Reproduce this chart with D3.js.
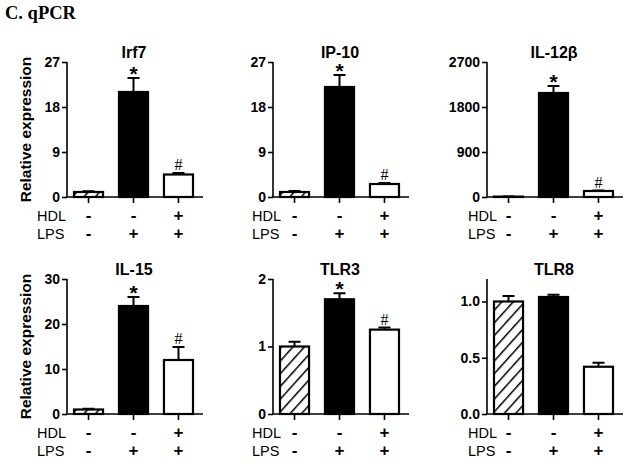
<!DOCTYPE html>
<html>
<head>
<meta charset="utf-8">
<script src="https://cdn.jsdelivr.net/npm/d3@7"></script>
<style>
  body { margin: 0; background: #fff; }
  text { font-family: "Liberation Sans", Arial, sans-serif; fill: #000; }
</style>
</head>
<body>
<svg width="628" height="465"></svg>
<script>
// values
var titles = ["Irf7", "IP-10", "IL-12\u03b2", "IL-15", "TLR3", "TLR8"];
var groups = ["ctrl", "lps", "hdl_lps"];
var means = [[1, 21, 4.5], [1, 22, 2.6], [8, 2080, 120], [1, 24, 12], [1, 1.7, 1.25], [1, 1.04, 0.42]];
var errs = [[0.15, 2.8, 0.3], [0.2, 2.4, 0.2], [4, 140, 10], [0.15, 2, 2.9], [0.07, 0.09, 0.03], [0.05, 0.02, 0.035]];
var yMax = [27, 27, 2700, 30, 2, 1.2];
var yTicks = [[0, 9, 18, 27], [0, 9, 18, 27], [0, 900, 1800, 2700], [0, 10, 20, 30], [0, 1, 2], [0, 0.5, 1.0]];
var sigMarks = [["", "*", "#"], ["", "*", "#"], ["", "*", "#"], ["", "*", "#"], ["", "*", "#"], ["", "", ""]];
var hdlSigns = ["-", "-", "+"];
var lpsSigns = ["-", "+", "+"];

var svg = d3.select("svg");

svg.append("defs").append("pattern")
    .attr("id", "hatch")
    .attr("patternUnits", "userSpaceOnUse")
    .attr("width", 8.5).attr("height", 8.5)
    .attr("patternTransform", "rotate(42)")
  .append("line")
    .attr("x1", 0).attr("y1", 0).attr("x2", 0).attr("y2", 8.5)
    .attr("stroke", "#000").attr("stroke-width", 3);

svg.append("text")
    .attr("x", 5).attr("y", 19)
    .style("font-family", "'Liberation Serif', 'Times New Roman', serif")
    .style("font-weight", "bold").style("font-size", "18.5px")
    .text("C. qPCR");

var axisX = [67, 273, 487];
var axisBottom = [197, 414];
var plotH = 135, plotW = 136;
var labelX = [37, 252, 468];
var fills = ["url(#hatch)", "#000", "#fff"];

titles.forEach(function(title, p) {
  var col = p % 3, row = Math.floor(p / 3);
  var g = svg.append("g")
      .attr("transform", "translate(" + axisX[col] + "," + (axisBottom[row] - plotH) + ")");

  var x = d3.scaleBand().domain(groups).range([6, 127]).paddingInner(0.31);
  var y = d3.scaleLinear().domain([0, yMax[p]]).range([plotH, 0]);

  var fmt = p == 5 ? d3.format(".1f") : d3.format("d");
  var yAxis = g.append("g")
      .call(d3.axisLeft(y).tickValues(yTicks[p]).tickFormat(fmt).tickSize(5).tickPadding(2));
  yAxis.select(".domain").attr("stroke-width", 1.6).attr("d", "M0," + plotH + "V0");
  yAxis.selectAll(".tick line").attr("stroke-width", 1.6);
  yAxis.selectAll(".tick text")
      .style("font-size", "14px").style("font-weight", "bold")
      .style("font-family", "'Liberation Sans', Arial, sans-serif");

  var xAxis = g.append("g")
      .attr("transform", "translate(0," + plotH + ")")
      .call(d3.axisBottom(x).tickSize(6).tickFormat(""));
  xAxis.select(".domain").attr("stroke-width", 1.6).attr("d", "M0,0H" + plotW);
  xAxis.selectAll(".tick line").attr("stroke-width", 1.6);

  var data = groups.map(function(k, i) {
    return { key: k, i: i, m: means[p][i], e: errs[p][i], mark: sigMarks[p][i] };
  });

  // error bars (upper only)
  g.selectAll(".err").data(data).enter().append("path")
      .attr("class", "err")
      .attr("fill", "none").attr("stroke", "#000").attr("stroke-width", 2)
      .attr("d", function(d) {
        var cx = x(d.key) + x.bandwidth() / 2, yt = y(d.m + d.e);
        return "M" + cx + "," + y(d.m) + "V" + yt + "M" + (cx - 6) + "," + yt + "H" + (cx + 6);
      });

  g.selectAll(".bar").data(data).enter().append("rect")
      .attr("class", "bar")
      .attr("x", function(d) { return x(d.key) + 1; })
      .attr("width", x.bandwidth() - 2)
      .attr("y", function(d) { return y(d.m); })
      .attr("height", function(d) { return plotH - y(d.m); })
      .attr("fill", function(d) { return fills[d.i]; })
      .attr("stroke", "#000").attr("stroke-width", 2.2);

  g.selectAll(".mark").data(data.filter(function(d) { return d.mark; })).enter().append("text")
      .attr("class", "mark")
      .attr("x", function(d) { return x(d.key) + x.bandwidth() / 2; })
      .attr("y", function(d) { return y(d.m + d.e) - (d.mark == "*" ? -3 : 3); })
      .attr("text-anchor", "middle")
      .style("font-size", function(d) { return d.mark == "*" ? "21px" : "16px"; })
      .style("font-weight", function(d) { return d.mark == "*" ? "bold" : "normal"; })
      .style("font-family", function(d) { return d.mark == "*" ? "'Liberation Sans', Arial, sans-serif" : "'Liberation Serif', serif"; })
      .text(function(d) { return d.mark; });

  g.append("text")
      .attr("x", 67).attr("y", -4)
      .attr("text-anchor", "middle")
      .style("font-size", "16px").style("font-weight", "bold")
      .text(title);

  // treatment rows
  var rows = [["HDL", hdlSigns, 24], ["LPS", lpsSigns, 42]];
  rows.forEach(function(r) {
    g.append("text")
        .attr("x", labelX[col] - axisX[col]).attr("y", plotH + r[2])
        .style("font-size", "14.5px")
        .text(r[0]);
    g.selectAll(".sign-" + r[0]).data(groups).enter().append("text")
        .attr("x", function(k) { return x(k) + x.bandwidth() / 2; })
        .attr("y", plotH + r[2])
        .attr("text-anchor", "middle")
        .style("font-size", "17px").style("font-weight", "bold")
        .text(function(k, i) { return r[1][i]; });
  });

  if (col == 0) {
    g.append("text")
        .attr("transform", "translate(-36," + (plotH / 2) + ") rotate(-90)")
        .attr("text-anchor", "middle")
        .style("font-size", "15.5px").style("font-weight", "bold")
        .text("Relative expression");
  }
});
</script>
</body>
</html>
